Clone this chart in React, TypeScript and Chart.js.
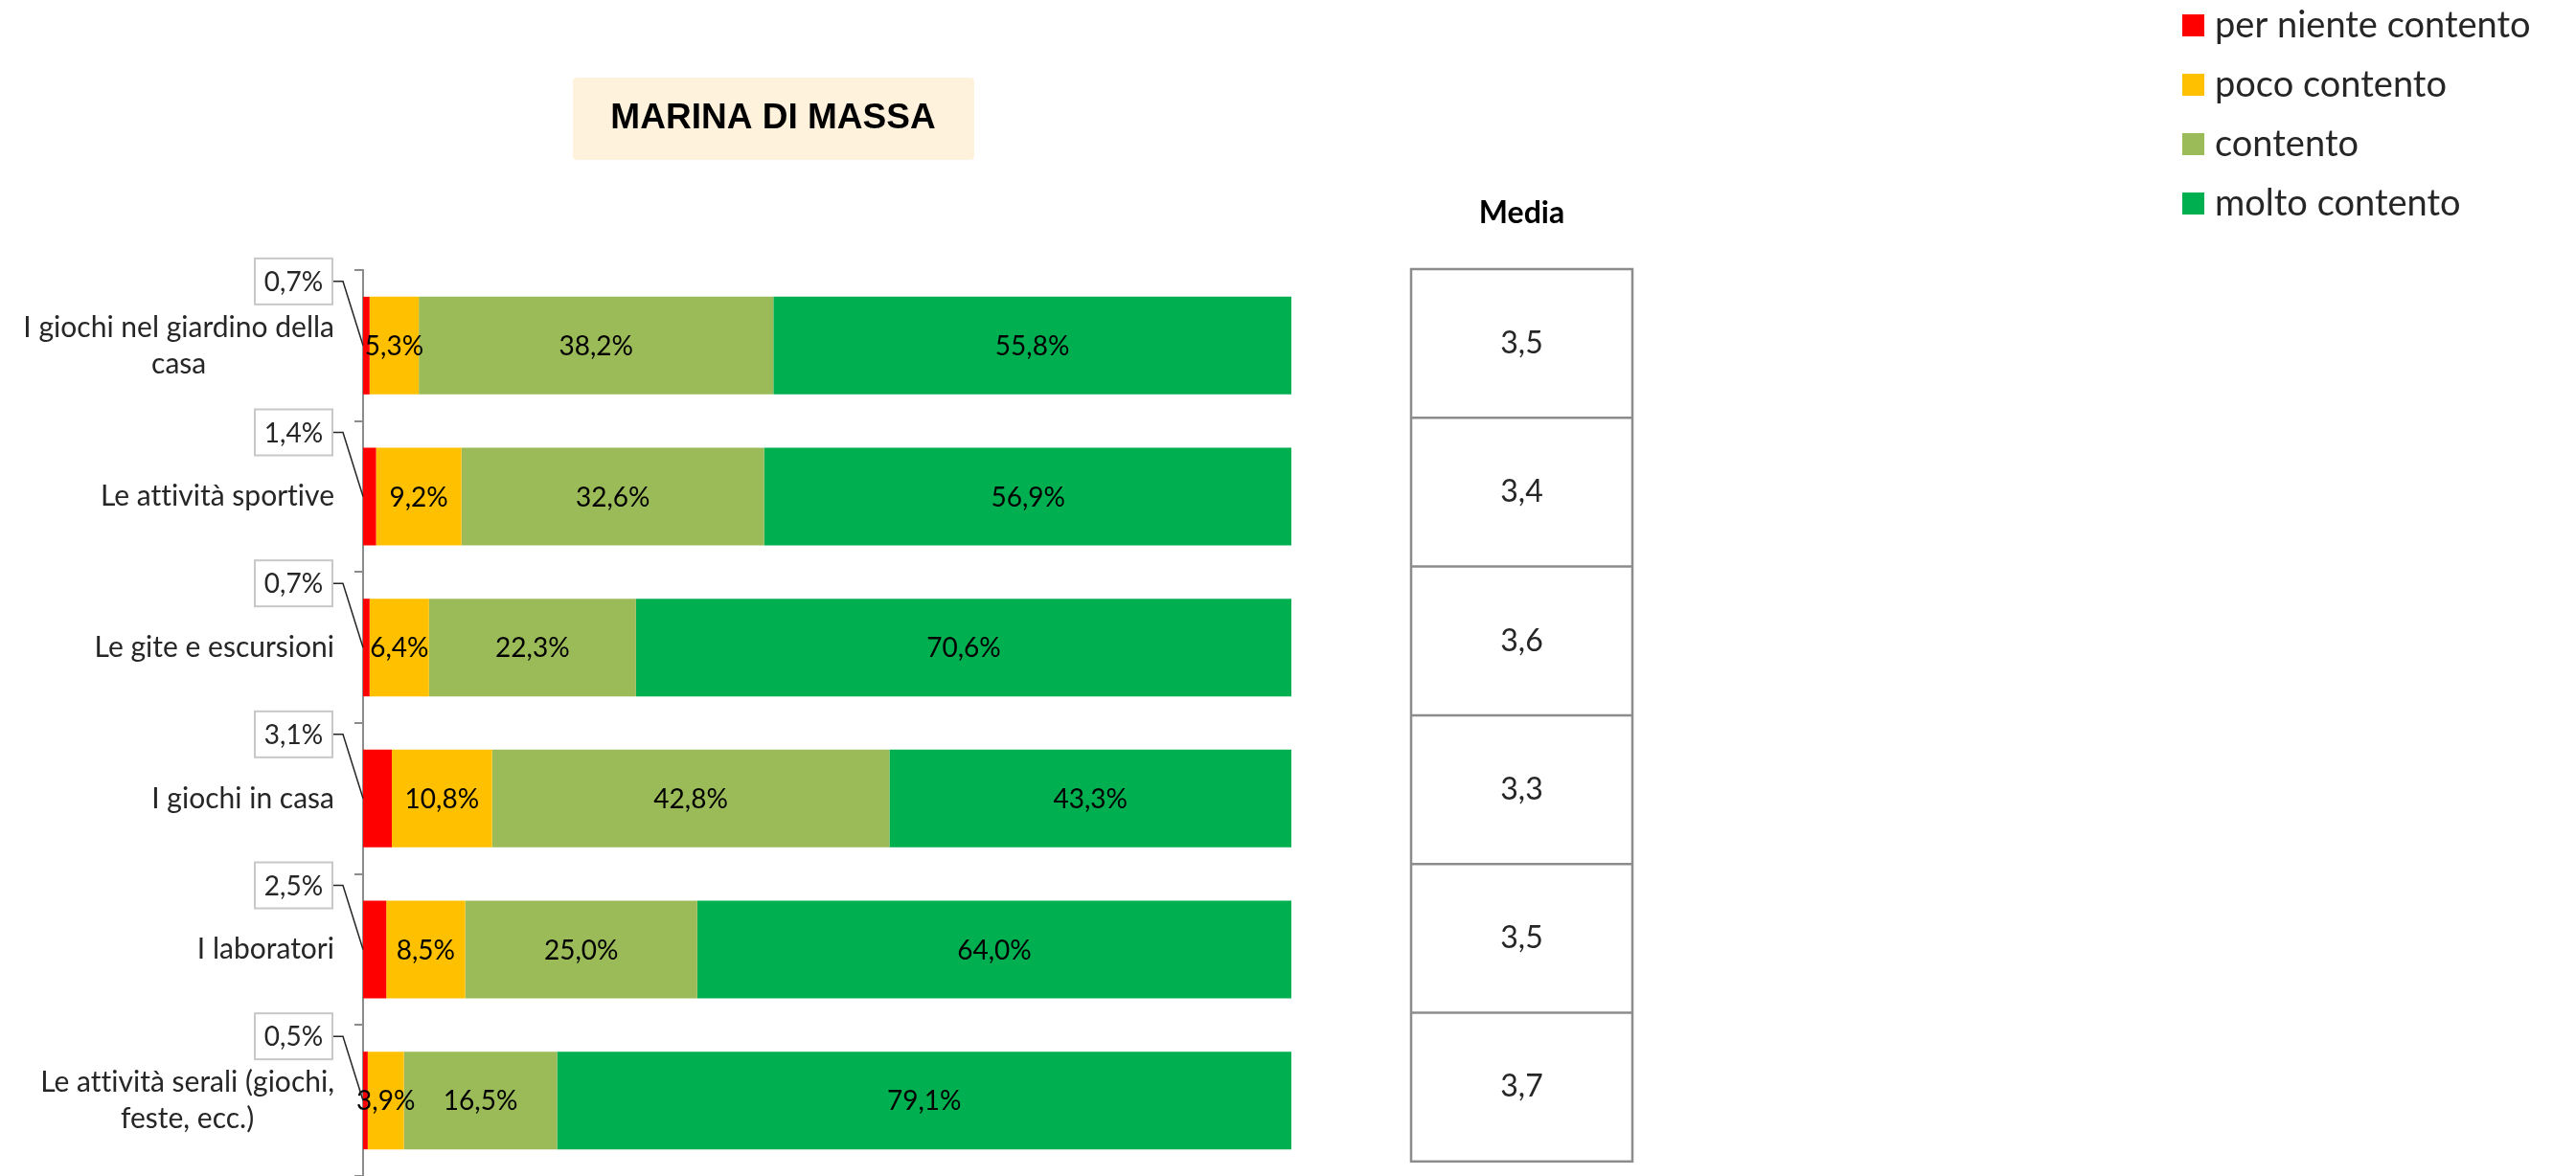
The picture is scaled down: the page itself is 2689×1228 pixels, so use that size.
import React, { useEffect, useRef } from 'react';
import { Chart, registerables } from 'chart.js';

Chart.register(...registerables);

// ---- data ----
const categories: (string | string[])[] = [
  ['I giochi nel giardino della', 'casa'],
  'Le attività sportive',
  'Le gite e escursioni',
  'I giochi in casa',
  'I laboratori',
  ['Le attività serali (giochi,', 'feste, ecc.)'],
];
const seriesNames = ['per niente contento', 'poco contento', 'contento', 'molto contento'];
const perNienteContento = [0.7, 1.4, 0.7, 3.1, 2.5, 0.5];
const pocoContento = [5.3, 9.2, 6.4, 10.8, 8.5, 3.9];
const contentoValues = [38.2, 32.6, 22.3, 42.8, 25.0, 16.5];
const moltoContento = [55.8, 56.9, 70.6, 43.3, 64.0, 79.1];
const mediaValues = [3.5, 3.4, 3.6, 3.3, 3.5, 3.7];
const seriesColors = ['#FF0000', '#FFC000', '#9BBB59', '#00B050'];
const chartTitle = 'MARINA DI MASSA';
const mediaTitle = 'Media';

const FONT = 'Lato, "Open Sans", sans-serif';
const fmt = (v: number) => v.toFixed(1).replace('.', ',');

const overlayPlugin = {
  id: 'overlay',
  afterDatasetsDraw(chart: any) {
    const ctx = chart.ctx as CanvasRenderingContext2D;
    const yScale = chart.scales.y;
    const area = chart.chartArea;
    ctx.save();
    try {
      (ctx as any).letterSpacing = '0.01px';
    } catch (e) {}

    // category labels (block right-aligned, lines centered within block)
    ctx.font = `30px ${FONT}`;
    ctx.fillStyle = '#262626';
    ctx.textBaseline = 'middle';
    ctx.textAlign = 'center';
    const lineH = 38;
    const blockRight = area.left - 30;
    chart.data.labels.forEach((lab: any, i: number) => {
      const lines: string[] = Array.isArray(lab) ? lab : [lab];
      const w = Math.max(...lines.map((l) => ctx.measureText(l).width));
      const cx = blockRight - w / 2;
      const cy = yScale.getPixelForValue(i);
      lines.forEach((l, k) => {
        ctx.fillText(l, cx, cy + (k - (lines.length - 1) / 2) * lineH);
      });
    });

    // data labels inside bars
    ctx.font = `28px ${FONT}`;
    ctx.fillStyle = '#000';
    for (let d = 1; d < chart.data.datasets.length; d++) {
      const meta = chart.getDatasetMeta(d);
      meta.data.forEach((el: any, j: number) => {
        const v = chart.data.datasets[d].data[j];
        const x = (el.x + el.base) / 2;
        ctx.fillText(fmt(v) + '%', x, el.y + 1);
      });
    }

    // callouts for first series
    const meta0 = chart.getDatasetMeta(0);
    meta0.data.forEach((el: any, j: number) => {
      const v = chart.data.datasets[0].data[j];
      const txt = fmt(v) + '%';
      const boxW = 81, boxH = 48;
      const boxRight = area.left - 32;
      const barTop = el.y - el.height / 2;
      const cy = barTop - 16;
      ctx.strokeStyle = '#262626';
      ctx.lineWidth = 1.5;
      ctx.beginPath();
      ctx.moveTo(boxRight, cy);
      ctx.lineTo(boxRight + 11, cy);
      ctx.lineTo(el.base, el.y);
      ctx.stroke();
      ctx.fillStyle = '#fff';
      ctx.fillRect(boxRight - boxW, cy - boxH / 2, boxW, boxH);
      ctx.strokeStyle = '#C8C8C8';
      ctx.lineWidth = 2;
      ctx.strokeRect(boxRight - boxW, cy - boxH / 2, boxW, boxH);
      ctx.fillStyle = '#262626';
      ctx.font = `28px ${FONT}`;
      ctx.textAlign = 'center';
      ctx.fillText(txt, boxRight - boxW / 2, cy + 1);
    });

    // media table
    const tLeft = 1473, tRight = 1704;
    const n = chart.data.labels.length;
    const band = (area.bottom - area.top) / n;
    const rowH = band * 0.985;
    const tTop = area.top - 1;
    ctx.strokeStyle = '#8C8C8C';
    ctx.lineWidth = 2.5;
    ctx.strokeRect(tLeft, tTop, tRight - tLeft, rowH * n);
    for (let i = 1; i < n; i++) {
      ctx.beginPath();
      ctx.moveTo(tLeft, tTop + rowH * i);
      ctx.lineTo(tRight, tTop + rowH * i);
      ctx.stroke();
    }
    ctx.fillStyle = '#262626';
    ctx.font = `32px ${FONT}`;
    mediaValues.forEach((m, i) => {
      ctx.fillText(fmt(m), (tLeft + tRight) / 2, tTop + rowH * (i + 0.5));
    });
    ctx.font = `bold 32px ${FONT}`;
    ctx.fillStyle = '#000';
    ctx.fillText(mediaTitle, (tLeft + tRight) / 2, 223);

    // title box
    ctx.fillStyle = '#FFF2DC';
    ctx.beginPath();
    (ctx as any).roundRect(598, 81, 419, 86, 4);
    ctx.fill();
    ctx.fillStyle = '#000';
    ctx.font = 'bold 37px "Liberation Sans", Arial, sans-serif';
    ctx.fillText(chartTitle, 807, 124);

    // legend
    ctx.textAlign = 'left';
    ctx.font = `38px ${FONT}`;
    chart.data.datasets.forEach((ds: any, i: number) => {
      const top = 15 + i * 62;
      ctx.fillStyle = ds.backgroundColor;
      ctx.fillRect(2278, top, 23, 23);
      ctx.fillStyle = '#262626';
      ctx.fillText(ds.label, 2312, top + 12);
    });

    ctx.restore();
  },
};

export default function App() {
  const ref = useRef<HTMLCanvasElement | null>(null);
  useEffect(() => {
    if (!ref.current) return;
    const seriesData = [perNienteContento, pocoContento, contentoValues, moltoContento];
    const chart = new Chart(ref.current, {
      type: 'bar',
      data: {
        labels: categories as any,
        datasets: seriesNames.map((name, i) => ({
          label: name,
          data: seriesData[i],
          backgroundColor: seriesColors[i],
          borderWidth: 0,
          barPercentage: 0.647,
          categoryPercentage: 1,
        })),
      },
      options: {
        indexAxis: 'y',
        responsive: false,
        animation: false,
        devicePixelRatio: 1,
        layout: { padding: { top: 282, left: 0, right: 2689 - 1348, bottom: 0 } },
        plugins: {
          legend: { display: false },
          tooltip: { enabled: false },
          title: { display: false },
        },
        scales: {
          x: {
            stacked: true,
            min: 0,
            max: 100,
            display: false,
          },
          y: {
            stacked: true,
            offset: true,
            ticks: { display: false },
            grid: {
              display: true,
              offset: true,
              drawOnChartArea: false,
              drawTicks: true,
              tickLength: 9,
              color: '#8C8C8C',
              lineWidth: 2,
            },
            border: { display: true, color: '#8C8C8C', width: 2 },
            afterFit: (scale: any) => {
              scale.width = 379;
            },
          },
        },
      },
      plugins: [overlayPlugin],
    });
    return () => chart.destroy();
  }, []);
  return (
    <canvas
      ref={ref}
      width={2689}
      height={1228}
      style={{ position: 'absolute', left: 0, top: 0, display: 'block' }}
    />
  );
}
